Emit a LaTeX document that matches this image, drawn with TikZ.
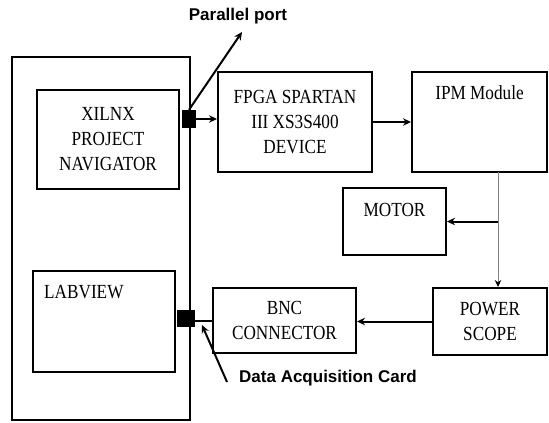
\documentclass[tikz,border=0pt]{standalone}
\usepackage{fontspec}
\setmainfont{Liberation Serif}[FakeStretch=0.86]
\newfontfamily\lblfont{Liberation Sans}
\usetikzlibrary{arrows.meta}

\begin{document}
\begin{tikzpicture}[x=1pt, y=-1pt,
          boxfont/.style={font=\fontsize{20}{25}\selectfont},
          blk/.style={rectangle, draw, line width=2pt, inner sep=0pt,
                      align=center, boxfont},
          port/.style={rectangle, fill=black, inner sep=0pt},
          arr/.style={-{Stealth[length=8pt, width=7.5pt]}, line width=2pt},
          feed/.style={-{Stealth[length=7pt, width=6.5pt, black]}, draw=gray,
                       line width=1pt},
          labl/.style={font=\lblfont\bfseries\fontsize{17}{20}\selectfont,
                       inner sep=0pt}
        ]
        \useasboundingbox (0,0) rectangle (549,423);

        % PC side
        \node[blk, minimum width=178pt, minimum height=363pt] (pc) at (101,238.5) {};
        \node[blk, minimum width=142pt, minimum height=99pt]  (xilnx) at (108,139.5)
              {XILNX\\PROJECT\\NAVIGATOR};
        \node[blk, minimum width=142pt, minimum height=101pt,
              label={[anchor=north west, inner sep=0pt, boxfont, xshift=12pt,
                      yshift=-15.5pt]north west:LABVIEW}] (labview) at (104,321.5) {};
        \node[port, minimum width=14pt, minimum height=18pt] (port1) at (189,119) {};
        \node[port, minimum width=18pt, minimum height=17pt] (port2) at (186,318.5) {};

        % hardware
        \node[blk, minimum width=154pt, minimum height=100pt] (fpga) at (295,122)
              {FPGA SPARTAN\\III XS3S400\\DEVICE};
        \node[blk, minimum width=135pt, minimum height=100pt,
              label={[anchor=north, inner sep=0pt, boxfont, yshift=-14pt]north:IPM Module}]
              (ipm) at (479.5,122) {};
        \node[blk, minimum width=103pt, minimum height=67pt,
              label={[anchor=north, inner sep=0pt, boxfont, yshift=-16pt]north:MOTOR}]
              (motor) at (394.5,221.5) {};
        \node[blk, minimum width=114pt, minimum height=67pt] (scope) at (490,321.5)
              {POWER\\SCOPE};
        \node[blk, minimum width=143pt, minimum height=65pt] (bnc) at (284.5,320.5)
              {BNC\\CONNECTOR};

        \node[labl] (pplabel) at (238,16)  {Parallel port};
        \node[labl] (dalabel) at (328,378) {Data Acquisition Card};

        \coordinate (pptip) at (242,32);
        \coordinate (drop)  at (498,172);
        \coordinate (datip) at (202,325);

        \draw[arr] (port1.east) -- (port1.east -| fpga.west);
        \draw[arr] (port1.north) -- (pptip);
        \draw[arr] (fpga) -- (ipm);
        \draw[feed] (drop) -- (drop |- scope.north);
        \draw[arr] (drop |- motor.east) -- (motor.east);
        \draw[arr] (scope.west) -- (scope.west -| bnc.east);
        \draw[line width=2pt] (bnc.west) -- (bnc.west -| port2.east);
        \draw[arr] ([xshift=-12pt, yshift=-4pt]dalabel.west) -- (datip);
      \end{tikzpicture}
\end{document}
